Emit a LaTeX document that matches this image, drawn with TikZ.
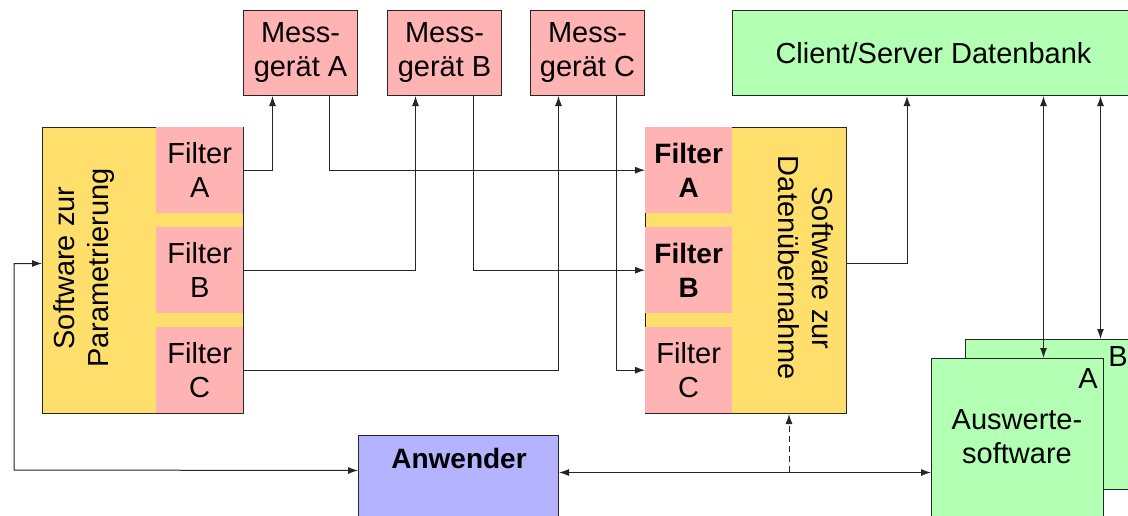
\documentclass[tikz,border=0pt]{standalone}
\usepackage{fontspec}
\setmainfont{Liberation Sans}
\usetikzlibrary{arrows.meta,calc}
\definecolor{pinkc}{HTML}{FFB3B3}
\definecolor{yelc}{HTML}{FFDF6B}
\definecolor{grnc}{HTML}{B3FFB3}
\definecolor{bluc}{HTML}{B3B3FF}
\tikzset{
  txt/.style={font=\fontsize{29}{34}\selectfont, align=center, inner sep=0pt},
  boldtxt/.style={txt, font=\fontsize{28}{34}\selectfont\bfseries},
  boxn/.style={draw=black!85, line width=1pt, inner sep=0pt, anchor=north west},
  mess/.style={boxn, fill=pinkc, minimum width=114pt, minimum height=85pt, txt},
  filt/.style={inner sep=0pt, anchor=north west, fill=pinkc, minimum width=87pt, minimum height=86pt, txt},
  soft/.style={boxn, fill=yelc, minimum width=201pt, minimum height=286pt},
  arr/.style={draw=black!85, line width=1pt, -{Latex[length=10pt,width=7pt]}},
  darr/.style={draw=black!85, line width=1pt, {Latex[length=10pt,width=7pt]}-{Latex[length=10pt,width=7pt]}},
}
\begin{document}
\begin{tikzpicture}[x=1pt,y=-1pt]
\clip (0,0) rectangle (1128,515);
\fill[white] (0,0) rectangle (1128,515);
% top boxes
\node[mess] (ma) at (243,10) {Mess-\\gerät A};
\node[mess] (mb) at (387,10) {Mess-\\gerät B};
\node[mess] (mc) at (530,10) {Mess-\\gerät C};
\node[boxn, fill=grnc, minimum width=402pt, minimum height=85pt, txt] (db) at (732,10) {Client/Server Datenbank};
% Parametrierung
\node[soft] (par) at (42,127) {};
\node[txt, rotate=90] (part) at (84,268) {Software zur\\Parametrierung};
\node[filt] (fa) at (156,127) {Filter\\A};
\node[filt] (fb) at (156,227) {Filter\\B};
\node[filt] (fc) at (156,327) {Filter\\C};
% Datenuebernahme
\node[soft] (dat) at (645,127) {};
\node[txt, rotate=-90] (datt) at (806,268) {Software zur\\Datenübernahme};
\node[filt, boldtxt] (fda) at (645,127) {Filter\\A};
\node[filt, boldtxt] (fdb) at (645,227) {Filter\\B};
\node[filt] (fdc) at (645,327) {Filter\\C};
% Anwender
\node[boxn, fill=bluc, minimum width=200pt, minimum height=100pt] (an) at (358,435) {};
\node[boldtxt] (ant) at (459,458) {Anwender};
% Auswertesoftware
\node[boxn, fill=grnc, minimum width=200pt, minimum height=150pt] (ab) at (965,339) {};
\node[txt] (abt) at (1118,357) {B};
\node[boxn, fill=grnc, minimum width=172pt, minimum height=200pt] (aa) at (931,358) {};
\node[txt] (aat) at (1088,379) {A};
\node[txt] (aatx) at (1017,437) {Auswerte-\\software};
% connectors filters -> Messgeraete
\draw[arr] (fa.east) -| ([xshift=-28pt]ma.south);
\draw[arr] (fb.east) -| ([xshift=-29pt]mb.south);
\draw[arr] (fc.east) -| ([xshift=-29pt]mc.south);
\draw[arr] ([xshift=29pt]ma.south) |- (fda.west);
\draw[arr] ([xshift=29pt]mb.south) |- (fdb.west);
\draw[arr] ([xshift=29pt]mc.south) |- (fdc.west);
% Datenuebernahme -> Datenbank
\draw[arr] ([yshift=7pt]dat.east) -| ($(db.south west)+(175,0)$);
% Datenbank <-> Auswerte
\draw[darr] ([xshift=26pt]aa.north) -- ([xshift=26pt]aa.north |- db.south);
\draw[darr] ([xshift=35pt]ab.north) -- ([xshift=35pt]ab.north |- db.south);
% Anwender loops
\coordinate (lc) at (14,470);
\draw[darr] ([yshift=7pt]par.west) -| (lc) -- ([yshift=15pt]an.west);
\draw[darr] ([yshift=13pt]an.east) -- ([yshift=13pt]an.east -| aa.west);
\coordinate (dj) at (789,472);
\draw[arr, dashed, dash pattern=on 6pt off 4pt] (dj) -- (dj |- dat.south);
\end{tikzpicture}
\end{document}
